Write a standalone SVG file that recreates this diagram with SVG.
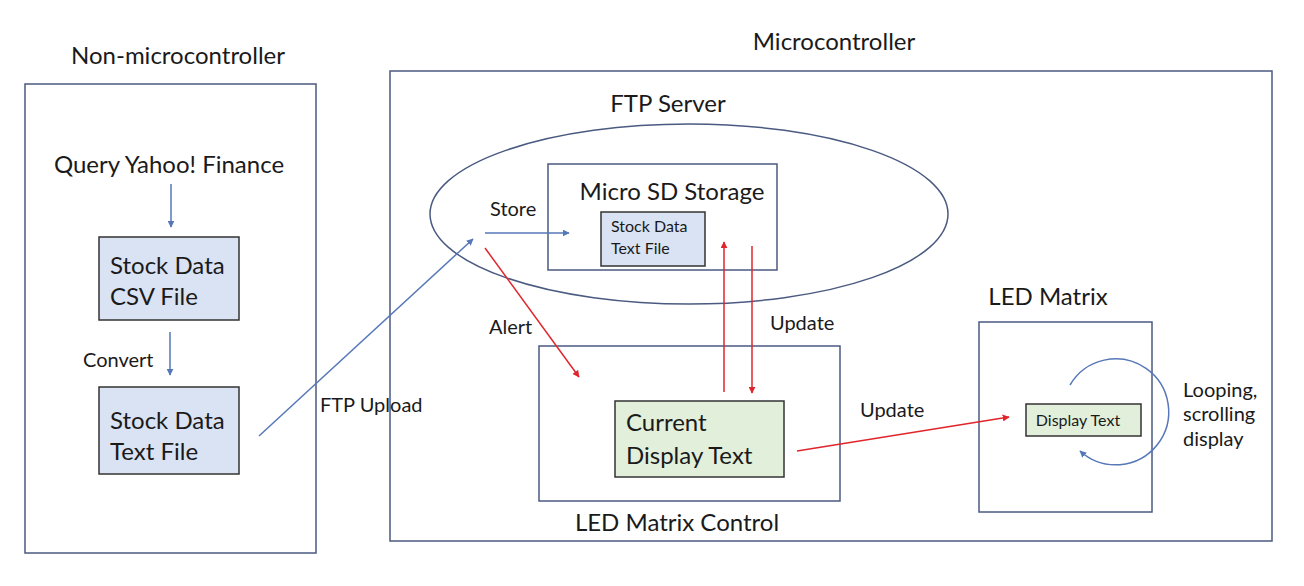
<svg xmlns="http://www.w3.org/2000/svg" width="1304" height="586" viewBox="0 0 1304 586">
<defs>
<style>
text{font-family:Lato,"Open Sans","Liberation Sans",sans-serif;fill:#1a1a1a}
.t22{font-size:24px}
.t17{font-size:20px}
.t13{font-size:16px}
.cont{fill:none;stroke:#4a5a80;stroke-width:1.5}
.fileb{fill:#dae3f3;stroke:#333;stroke-width:1.5}
.fileg{fill:#e2efda;stroke:#333;stroke-width:1.5}
.bl{fill:none;stroke:#5677b8;stroke-width:1.5}
.rd{fill:none;stroke:#e0252b;stroke-width:1.5}
</style>
<marker id="ab" viewBox="0 0 10 10" refX="9" refY="5" markerWidth="7" markerHeight="7" orient="auto" markerUnits="userSpaceOnUse"><path d="M0,0L10,5L0,10z" fill="#5677b8"/></marker>
<marker id="ar" viewBox="0 0 10 10" refX="9" refY="5" markerWidth="7" markerHeight="7" orient="auto" markerUnits="userSpaceOnUse"><path d="M0,0L10,5L0,10z" fill="#e0252b"/></marker>
</defs>
<rect width="1304" height="586" fill="#fff"/>

<g id="non-microcontroller">
<text class="t22" x="178" y="64" text-anchor="middle">Non-microcontroller</text>
<rect class="cont" x="25" y="84" width="291" height="469"/>
<text class="t22" x="169" y="173" text-anchor="middle">Query Yahoo! Finance</text>
</g>
<g id="csv-file">
<rect class="fileb" x="99" y="237" width="140" height="83"/>
<text class="t22" x="110" y="274">Stock Data</text>
<text class="t22" x="110" y="305">CSV File</text>
</g>
<g id="text-file">
<rect class="fileb" x="99" y="387" width="140" height="87"/>
<text class="t22" x="110" y="429">Stock Data</text>
<text class="t22" x="110" y="460">Text File</text>
</g>

<g id="microcontroller">
<text class="t22" x="834" y="50" text-anchor="middle">Microcontroller</text>
<rect class="cont" x="390" y="71" width="882" height="470"/>
</g>
<g id="ftp-server">
<text class="t22" x="668" y="112" text-anchor="middle">FTP Server</text>
<ellipse class="cont" cx="689" cy="214" rx="259" ry="90"/>
</g>
<g id="micro-sd">
<rect class="cont" x="548" y="164" width="229" height="106"/>
<text class="t22" x="672" y="200" text-anchor="middle">Micro SD Storage</text>
</g>
<g id="sd-text-file">
<rect class="fileb" x="601" y="212" width="104" height="54"/>
<text class="t13" x="611" y="232">Stock Data</text>
<text class="t13" x="611" y="254">Text File</text>
</g>
<g id="led-matrix-control">
<rect class="cont" x="539" y="346" width="301" height="155"/>
<text class="t22" x="677" y="531" text-anchor="middle">LED Matrix Control</text>
</g>
<g id="current-display-text">
<rect class="fileg" x="615" y="401" width="169" height="76"/>
<text class="t22" x="626" y="431">Current</text>
<text class="t22" x="626" y="464">Display Text</text>
</g>
<g id="led-matrix">
<text class="t22" x="1048" y="305" text-anchor="middle">LED Matrix</text>
<rect class="cont" x="979" y="322" width="173" height="190"/>
</g>
<g id="display-text">
<rect class="fileg" x="1026" y="404" width="115" height="32"/>
<text class="t13" x="1078" y="426" text-anchor="middle">Display Text</text>
</g>

<g id="connectors">
<line class="bl" x1="171" y1="184" x2="171" y2="227" marker-end="url(#ab)"/>
<line class="bl" x1="170" y1="332" x2="170" y2="375" marker-end="url(#ab)"/>
<text class="t17" x="83" y="367">Convert</text>
<line class="bl" x1="259" y1="436" x2="473" y2="239" marker-end="url(#ab)"/>
<text class="t17" x="320" y="412">FTP Upload</text>
<line class="bl" x1="485" y1="233" x2="569" y2="233" marker-end="url(#ab)"/>
<text class="t17" x="490" y="216">Store</text>
<line class="rd" x1="485" y1="248" x2="579" y2="377" marker-end="url(#ar)"/>
<text class="t17" x="489" y="334">Alert</text>
<line class="rd" x1="724" y1="392" x2="724" y2="242" marker-end="url(#ar)"/>
<line class="rd" x1="752" y1="246" x2="752" y2="393" marker-end="url(#ar)"/>
<text class="t17" x="770" y="330">Update</text>
<line class="rd" x1="797" y1="451" x2="1009" y2="417" marker-end="url(#ar)"/>
<text class="t17" x="860" y="417">Update</text>
<path class="bl" d="M1070,385 A53,53 0 1 1 1080,451" marker-end="url(#ab)"/>
<text class="t17" x="1183" y="397">Looping,</text>
<text class="t17" x="1183" y="421">scrolling</text>
<text class="t17" x="1183" y="446">display</text>
</g>
</svg>
